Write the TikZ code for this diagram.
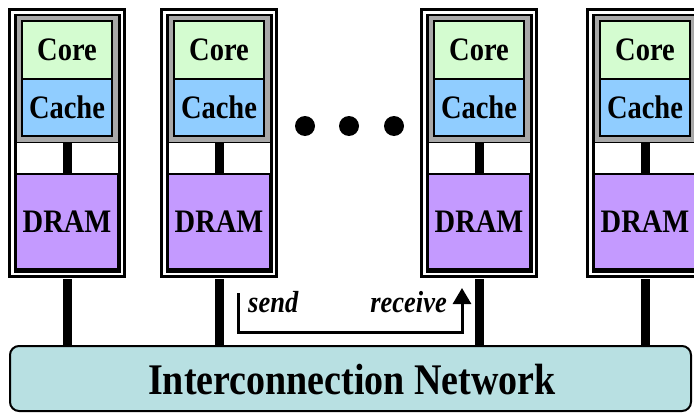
\documentclass[tikz,border=0pt]{standalone}
\usepackage{fontspec}
\setmainfont{Liberation Serif}
\usetikzlibrary{arrows.meta}
\definecolor{corefill}{RGB}{212,252,208}
\definecolor{cachefill}{RGB}{144,205,255}
\definecolor{dramfill}{RGB}{196,154,255}
\definecolor{netfill}{RGB}{184,224,226}
\definecolor{holdgray}{RGB}{168,168,168}
\newcommand{\tallt}[1]{\scalebox{1}[1.15]{#1}}
\tikzset{
  frame/.style={draw=black, line width=3pt, double=white, double distance=2.5pt,
    minimum width=109.5pt, minimum height=261.5pt, inner sep=0pt},
  holder/.style={draw=black, fill=holdgray, line width=1.5pt,
    minimum width=102.5pt, minimum height=127.5pt, inner sep=0pt},
  corebox/.style={draw=black, fill=corefill, line width=2pt,
    minimum width=90pt, minimum height=58pt, inner sep=0pt,
    font=\fontsize{28.5}{30}\selectfont\bfseries},
  cachebox/.style={draw=black, fill=cachefill, line width=2pt,
    minimum width=90pt, minimum height=57pt, inner sep=0pt,
    font=\fontsize{28.5}{30}\selectfont\bfseries},
  dramnode/.style={draw=black, fill=dramfill, line width=2pt,
    minimum width=102pt, minimum height=95pt, inner sep=0pt,
    font=\fontsize{28.5}{30}\selectfont\bfseries},
  link/.style={line width=9pt, draw=black},
  msg/.style={line width=3pt, draw=black},
  lbl/.style={font=\fontsize{26.5}{28}\selectfont\bfseries\itshape, inner sep=0pt},
  dot/.style={circle, fill=black, minimum size=20pt, inner sep=0pt},
}
\begin{document}
\begin{tikzpicture}[x=1pt,y=-1pt]
\clip (0,0) rectangle (694,415);
\fill[white] (0,0) rectangle (694,415);
% network
\node[draw=black, fill=netfill, line width=2pt, rounded corners=9pt,
  minimum width=681pt, minimum height=65pt, inner sep=0pt] (net) at (350.5,378.5) {};
\node[font=\fontsize{38}{40}\selectfont\bfseries, inner sep=0pt] (nettext) at (352,380) {\tallt{Interconnection Network}};
% processing elements
\foreach \i/\cx in {1/67, 2/219, 3/479, 4/645} {
  \node[frame] (frame\i) at (\cx,143) {};
  \node[holder] (hold\i) at (\cx,78.5) {};
  \node[corebox] (core\i) at (\cx,50) {\tallt{Core}};
  \node[cachebox] (cache\i) at (\cx,107.5) {\tallt{Cache}};
  \node[dramnode] (dram\i) at (\cx,221.5) {\tallt{DRAM}};
  \draw[link] (hold\i.south) -- (dram\i.north);
  \draw[link] ([yshift=-4pt]frame\i.south) -- (frame\i.south |- net.north);
}
% ellipsis dots
\node[dot] (d1) at (305,126) {};
\node[dot] (d2) at (349,126) {};
\node[dot] (d3) at (394,126) {};
% send / receive
\coordinate (sendtop) at (238,293);
\coordinate (bend) at (462,332);
\coordinate (recvtip) at (462,288);
\draw[msg, -{Triangle[width=18pt,length=16pt]}] (sendtop) |- (bend) -- (recvtip);
\node[lbl, anchor=base west] (send) at (248,312) {\tallt{send}};
\node[lbl, anchor=base east] (receive) at (447,312) {\tallt{receive}};
\end{tikzpicture}
\end{document}
